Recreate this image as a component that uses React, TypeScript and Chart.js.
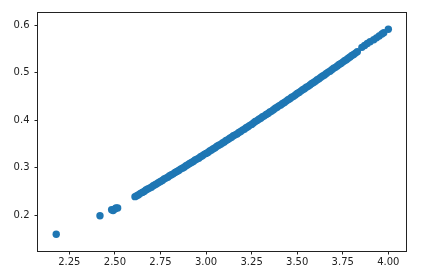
import React, { useEffect, useRef } from "react";
import { Chart, registerables } from "chart.js";

Chart.register(...registerables);

const X_TICKS = [2.25, 2.5, 2.75, 3.0, 3.25, 3.5, 3.75, 4.0];
const Y_TICKS = [0.2, 0.3, 0.4, 0.5, 0.6];
const X_RANGE = [2.078, 4.097];
const Y_RANGE = [0.1247, 0.6274];

const xValues = [
  2.178, 2.418, 2.482, 2.49, 2.5, 2.506, 2.515,
  2.61, 2.62, 2.63, 2.64, 2.65, 2.66, 2.67, 2.68, 2.69, 2.7,
  2.71, 2.72, 2.73, 2.74, 2.75, 2.76, 2.77, 2.78, 2.79, 2.8,
  2.81, 2.82, 2.83, 2.84, 2.85, 2.86, 2.87, 2.88, 2.89, 2.9,
  2.91, 2.92, 2.93, 2.94, 2.95, 2.96, 2.97, 2.98, 2.99, 3.0,
  3.01, 3.02, 3.03, 3.04, 3.05, 3.06, 3.07, 3.08, 3.09, 3.1,
  3.11, 3.12, 3.13, 3.14, 3.15, 3.16, 3.17, 3.18, 3.19, 3.2,
  3.21, 3.22, 3.23, 3.24, 3.25, 3.26, 3.27, 3.28, 3.29, 3.3,
  3.31, 3.32, 3.33, 3.34, 3.35, 3.36, 3.37, 3.38, 3.39, 3.4,
  3.41, 3.42, 3.43, 3.44, 3.45, 3.46, 3.47, 3.48, 3.49, 3.5,
  3.51, 3.52, 3.53, 3.54, 3.55, 3.56, 3.57, 3.58, 3.59, 3.6,
  3.61, 3.62, 3.63, 3.64, 3.65, 3.66, 3.67, 3.68, 3.69, 3.7,
  3.71, 3.72, 3.73, 3.74, 3.75, 3.76, 3.77, 3.78, 3.79, 3.8,
  3.81, 3.82, 3.83,
  3.855, 3.87, 3.885, 3.9, 3.92, 3.935, 3.95, 3.965, 3.975, 4.0,
];

const yValues = [
  0.16, 0.199, 0.2115, 0.21, 0.213, 0.215, 0.215,
  0.239, 0.241, 0.243, 0.246, 0.248, 0.25, 0.253, 0.255, 0.257, 0.259,
  0.262, 0.264, 0.266, 0.269, 0.271, 0.273, 0.276, 0.278, 0.28, 0.283,
  0.285, 0.287, 0.29, 0.292, 0.294, 0.297, 0.299, 0.301, 0.304, 0.306,
  0.309, 0.311, 0.313, 0.316, 0.318, 0.32, 0.323, 0.325, 0.328, 0.33,
  0.332, 0.335, 0.337, 0.34, 0.342, 0.345, 0.347, 0.349, 0.352, 0.354,
  0.357, 0.359, 0.362, 0.364, 0.367, 0.369, 0.371, 0.374, 0.376, 0.379,
  0.381, 0.384, 0.386, 0.389, 0.391, 0.394, 0.397, 0.399, 0.402, 0.404,
  0.407, 0.409, 0.412, 0.414, 0.417, 0.419, 0.422, 0.425, 0.427, 0.43,
  0.432, 0.435, 0.437, 0.44, 0.443, 0.445, 0.448, 0.45, 0.453, 0.456,
  0.458, 0.461, 0.464, 0.466, 0.469, 0.471, 0.474, 0.477, 0.479, 0.482,
  0.485, 0.487, 0.49, 0.493, 0.495, 0.498, 0.501, 0.503, 0.506, 0.509,
  0.511, 0.514, 0.517, 0.519, 0.522, 0.525, 0.527, 0.53, 0.533, 0.536,
  0.538, 0.541, 0.544,
  0.553, 0.557, 0.561, 0.565, 0.569, 0.573, 0.577, 0.581, 0.584, 0.591,
];

const FONT = { family: "'DejaVu Sans', sans-serif", size: 10 };

const framePlugin = {
  id: "frame",
  afterDraw(chart: any) {
    const { ctx, chartArea } = chart;
    ctx.save();
    ctx.strokeStyle = "#222";
    ctx.lineWidth = 1;
    const l = Math.round(chartArea.left) - 0.5;
    const t = Math.round(chartArea.top) + 0.5;
    const r = Math.round(chartArea.right) + 0.5;
    const b = Math.round(chartArea.bottom) + 0.5;
    ctx.strokeRect(l, t, r - l, b - t);
    ctx.restore();
  },
};

export default function App() {
  const ref = useRef<HTMLCanvasElement>(null);
  useEffect(() => {
    document.body.style.margin = "0";
    const canvas = ref.current;
    if (!canvas) return;
    const chart = new Chart(canvas, {
      type: "scatter",
      data: {
        datasets: [
          {
            data: xValues.map((x, i) => ({ x, y: yValues[i] })),
            backgroundColor: "#1f77b4",
            borderWidth: 0,
            pointRadius: 3.7,
            pointHoverRadius: 3.7,
          },
        ],
      },
      options: {
        animation: false,
        responsive: false,
        events: [],
        layout: { padding: { top: 12, right: 29, left: 0, bottom: 0 } },
        plugins: { legend: { display: false }, tooltip: { enabled: false } },
        scales: {
          x: {
            type: "linear",
            min: X_RANGE[0],
            max: X_RANGE[1],
            afterBuildTicks: (s: any) => {
              s.ticks = X_TICKS.map((v) => ({ value: v }));
            },
            afterFit: (s: any) => {
              s.height = 29;
            },
            ticks: {
              callback: (v: any) => Number(v).toFixed(2),
              font: FONT,
              color: "#222",
              padding: 2,
              maxRotation: 0,
              autoSkip: false,
            },
            grid: { drawOnChartArea: false, drawTicks: true, tickLength: 3.5, color: "#222" },
            border: { display: false },
          },
          y: {
            type: "linear",
            min: Y_RANGE[0],
            max: Y_RANGE[1],
            afterBuildTicks: (s: any) => {
              s.ticks = Y_TICKS.map((v) => ({ value: v }));
            },
            afterFit: (s: any) => {
              s.width = 38;
            },
            ticks: {
              callback: (v: any) => Number(v).toFixed(1),
              font: FONT,
              color: "#222",
              padding: 5,
              autoSkip: false,
            },
            grid: { drawOnChartArea: false, drawTicks: true, tickLength: 3.5, color: "#222" },
            border: { display: false },
          },
        },
      },
      plugins: [framePlugin],
    } as any);
    return () => chart.destroy();
  }, []);
  return (
    <canvas ref={ref} width={435} height={280} style={{ display: "block", width: 435, height: 280 }} />
  );
}
